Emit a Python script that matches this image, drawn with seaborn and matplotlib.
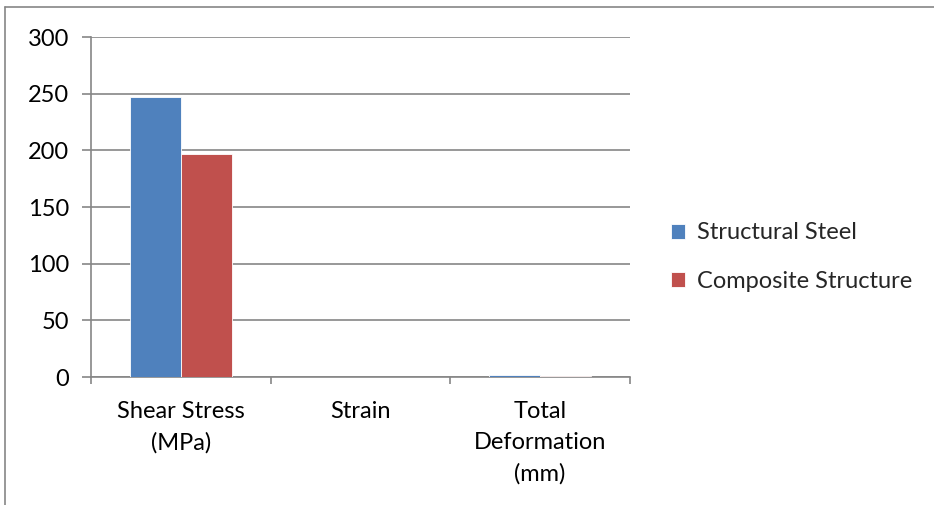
import numpy as np
import pandas as pd
import matplotlib
matplotlib.use("Agg")
import matplotlib.pyplot as plt
import seaborn as sns
from matplotlib.lines import Line2D

# données
categories = ["Shear Stress\n(MPa)", "Strain", "Total\nDeformation\n(mm)"]
structural_steel = [247, 0.001, 1.6]
composite_structure = [197, 0.001, 1.3]
series_names = ["Structural Steel", "Composite Structure"]
y_ticks = [0, 50, 100, 150, 200, 250, 300]

df = pd.DataFrame({
    "Category": categories * 2,
    "Value": structural_steel + composite_structure,
    "Material": [series_names[0]] * 3 + [series_names[1]] * 3,
})

sns.set_style("white")
plt.rcParams["font.family"] = ["Lato", "DejaVu Sans"]

grey = "#868686"
fs = 17
fig = plt.figure(figsize=(9.34, 5.05), dpi=100)
ax = fig.add_axes([91 / 934, 1 - 377 / 505, (630 - 91) / 934, (377 - 37) / 505])

sns.barplot(data=df, x="Category", y="Value", hue="Material",
            palette=["#4F81BD", "#C0504D"], width=0.567, gap=0,
            saturation=1, ax=ax, zorder=3, linewidth=0.6, edgecolor="white")

ax.set_xlim(-0.5, 2.5)
ax.set_ylim(0, 300)
ax.set_yticks(y_ticks)
ax.yaxis.grid(True, color=grey, linewidth=1.2, zorder=0)
ax.set_axisbelow(True)
ax.set_xlabel("")
ax.set_ylabel("")

for s in ["top", "right"]:
    ax.spines[s].set_visible(False)
for s in ["left", "bottom"]:
    ax.spines[s].set_color(grey)
    ax.spines[s].set_linewidth(1.2)

ax.tick_params(axis="y", direction="out", length=6.5, width=1.2, color=grey,
               left=True, pad=9, labelsize=fs, labelcolor="black")
ax.tick_params(axis="x", which="major", length=0, pad=17, labelsize=fs,
               labelcolor="black")
ax.set_xticks([-0.5, 0.5, 1.5, 2.5], minor=True)
ax.tick_params(axis="x", which="minor", direction="out", length=5, width=1.2,
               color=grey, bottom=True)
for lab in ax.get_xticklabels():
    lab.set_linespacing(1.6)
    lab.set_verticalalignment("top")

leg = ax.legend(loc="center left", bbox_to_anchor=(1.036, 0.353), frameon=False,
                fontsize=fs, handlelength=0.6, handleheight=0.6,
                handletextpad=0.5, labelspacing=1.15)

# cadre du graphique d'origine
fig.add_artist(Line2D([5 / 934, 5 / 934], [0, 1 - 7 / 505], color=grey,
                      linewidth=1.2, transform=fig.transFigure))
fig.add_artist(Line2D([5 / 934, 1], [1 - 7 / 505, 1 - 7 / 505], color=grey,
                      linewidth=1.2, transform=fig.transFigure))

fig.savefig("out.png", dpi=100)
